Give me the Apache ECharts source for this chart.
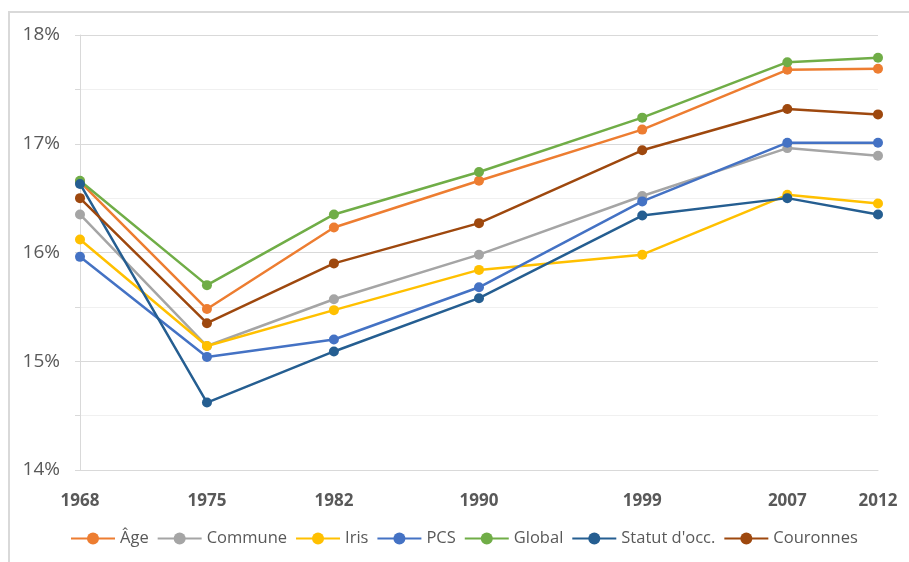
<!DOCTYPE html>
<html>
<head>
<meta charset="utf-8">
<script src="https://cdn.jsdelivr.net/npm/echarts@6/dist/echarts.min.js"></script>
<style>
  html, body { margin: 0; padding: 0; background: #fff; }
  #chart { width: 909px; height: 562px; }
</style>
</head>
<body>
<div id="chart"></div>
<script>
// Census years (x positions are proportional to time)
const years = [1968, 1975, 1982, 1990, 1999, 2007, 2012];

// Share (%) per breakdown
const age       = [16.65, 15.48, 16.23, 16.66, 17.13, 17.68, 17.69];
const commune   = [16.35, 15.14, 15.57, 15.98, 16.52, 16.96, 16.89];
const iris      = [16.12, 15.14, 15.47, 15.84, 15.98, 16.53, 16.45];
const pcs       = [15.96, 15.04, 15.20, 15.68, 16.47, 17.01, 17.01];
const global    = [16.66, 15.70, 16.35, 16.74, 17.24, 17.75, 17.79];
const statut    = [16.63, 14.62, 15.09, 15.58, 16.34, 16.50, 16.35];
const couronnes = [16.50, 15.35, 15.90, 16.27, 16.94, 17.32, 17.27];

const seriesNames = ['Âge', 'Commune', 'Iris', 'PCS', 'Global', "Statut d'occ.", 'Couronnes'];
const seriesValues = [age, commune, iris, pcs, global, statut, couronnes];
const seriesColors = ['#ED7D31', '#A5A5A5', '#FFC000', '#4472C4', '#70AD47', '#255E91', '#9E480E'];

const FONT = 'Open Sans';

const chart = echarts.init(document.getElementById('chart'));

chart.setOption({
  animation: false,
  backgroundColor: '#ffffff',
  graphic: [{
    type: 'rect',
    shape: { x: 9, y: 12, width: 920, height: 580 },
    style: { fill: 'none', stroke: '#d9d9d9', lineWidth: 2 },
    silent: true
  }],
  grid: { left: 80, right: 31, top: 35, bottom: 92 },
  legend: {
    bottom: 10,
    left: 65,
    itemWidth: 44,
    itemHeight: 15,
    itemGap: 8,
    textStyle: { color: '#595959', fontSize: 16.5, fontFamily: FONT },
    data: seriesNames
  },
  xAxis: {
    type: 'value',
    min: years[0],
    max: years[years.length - 1],
    splitLine: { show: false },
    axisLine: { show: true, lineStyle: { color: '#d9d9d9', width: 1 } },
    axisTick: { show: false },
    axisLabel: {
      customValues: years,
      color: '#595959',
      fontSize: 17,
      fontWeight: 'bold',
      fontFamily: FONT,
      margin: 23,
      formatter: v => String(v)
    }
  },
  yAxis: {
    type: 'value',
    min: 14,
    max: 18,
    interval: 1,
    axisLine: { show: true, lineStyle: { color: '#d9d9d9', width: 1 } },
    axisTick: { show: true, inside: false, length: 5, lineStyle: { color: '#d9d9d9' } },
    minorTick: { show: true, splitNumber: 2, length: 5, lineStyle: { color: '#d9d9d9' } },
    splitLine: { show: true, lineStyle: { color: '#d9d9d9', width: 1 } },
    minorSplitLine: { show: true, lineStyle: { color: '#f0f0f0', width: 1 } },
    axisLabel: {
      color: '#595959',
      fontSize: 19,
      fontFamily: FONT,
      margin: 20,
      formatter: '{value}%'
    }
  },
  series: seriesNames.map((name, i) => ({
    name: name,
    type: 'line',
    data: years.map((y, j) => [y, seriesValues[i][j]]),
    symbol: 'circle',
    symbolSize: 10,
    lineStyle: { width: 2.5, color: seriesColors[i] },
    itemStyle: { color: seriesColors[i] },
    z: 2 + i
  }))
});
</script>
</body>
</html>
